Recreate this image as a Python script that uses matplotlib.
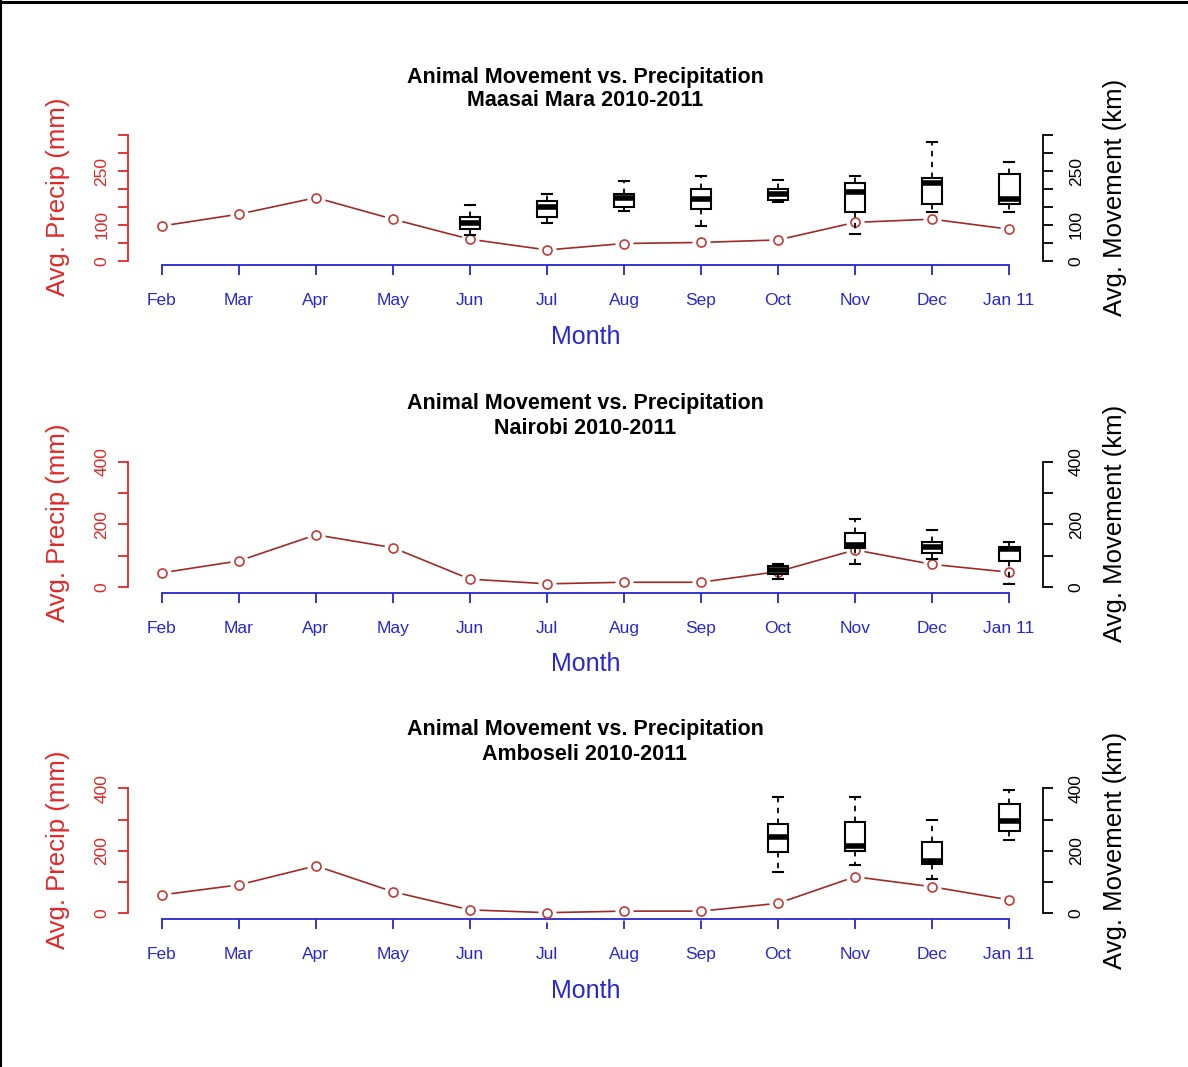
import matplotlib
matplotlib.use("Agg")
import matplotlib.pyplot as plt
from matplotlib.lines import Line2D

plt.rcParams['font.family'] = ['Liberation Sans', 'DejaVu Sans']

# ---------------- data ----------------
months = ["Feb", "Mar", "Apr", "May", "Jun", "Jul", "Aug", "Sep", "Oct", "Nov", "Dec", "Jan 11"]
sites = ["Maasai Mara 2010-2011", "Nairobi 2010-2011", "Amboseli 2010-2011"]

precip_mara = [97, 130, 176, 116, 60, 30, 48, 51, 58, 107, 116, 88]
precip_nairobi = [46, 84, 167, 126, 26, 11, 16, 16, 50, 119, 73, 48]
precip_amboseli = [59, 91, 152, 69, 11, 2, 7, 7, 32, 117, 85, 43]

# movement box stats: (month, lower whisker, Q1, median, Q3, upper whisker)
move_mara = [("Jun", 72, 88, 104, 121, 155),
             ("Jul", 106, 123, 149, 168, 186),
             ("Aug", 139, 150, 174, 186, 223),
             ("Sep", 97, 144, 171, 199, 236),
             ("Oct", 163, 170, 186, 199, 225),
             ("Nov", 75, 135, 192, 218, 236),
             ("Dec", 135, 158, 216, 230, 331),
             ("Jan 11", 135, 158, 173, 241, 277)]
move_nairobi = [("Oct", 27, 41, 55, 68, 74),
                ("Nov", 74, 124, 136, 172, 218),
                ("Dec", 89, 108, 127, 145, 182),
                ("Jan 11", 11, 84, 122, 129, 145)]
move_amboseli = [("Oct", 133, 195, 243, 285, 373),
                 ("Nov", 155, 200, 216, 291, 373),
                 ("Dec", 109, 158, 168, 228, 299),
                 ("Jan 11", 235, 263, 296, 349, 395)]

yticks_mara = [0, 50, 100, 150, 200, 250, 300, 350]
ylabels_mara = ["0", "", "100", "", "", "250", "", ""]
yticks_other = [0, 100, 200, 300, 400]
ylabels_other = ["0", "", "200", "", "400"]

# ---------------- layout ----------------
W, H = 1188, 1067
fig = plt.figure(figsize=(W / 100, H / 100), dpi=100)
fig.patch.set_facecolor("white")

# border lines (top & left)
fig.add_artist(Line2D([0, 1], [1 - 1.5 / H, 1 - 1.5 / H], color="black", lw=2.2, transform=fig.transFigure))
fig.add_artist(Line2D([1 / W, 1 / W], [0, 1], color="black", lw=1.5, transform=fig.transFigure))

panels = [
    dict(site=sites[0], precip=precip_mara, move=move_mara, ticks=yticks_mara, labels=ylabels_mara,
         top=130, bottom=265, ylim=(-12, 365), title_y=(77, 101), month_y=337, lab_y=197),
    dict(site=sites[1], precip=precip_nairobi, move=move_nairobi, ticks=yticks_other, labels=ylabels_other,
         top=455, bottom=593, ylim=(-18.2, 421), title_y=(403, 429), month_y=664, lab_y=523),
    dict(site=sites[2], precip=precip_amboseli, move=move_amboseli, ticks=yticks_other, labels=ylabels_other,
         top=780, bottom=919, ylim=(-18.2, 426.6), title_y=(730, 754), month_y=991, lab_y=850),
]

left_px, right_px = 128, 1043
red = "#E02828"
line_red = "#9E2A2A"
blue = "#2828D0"
x = list(range(1, len(months) + 1))

for p in panels:
    ax = fig.add_axes([left_px / W, 1 - p["bottom"] / H, (right_px - left_px) / W, (p["bottom"] - p["top"]) / H])
    ax.set_facecolor("none")
    ax.set_xlim(1 - 0.44, 12 + 0.44)
    ax.set_ylim(*p["ylim"])

    # precipitation line (type = "b")
    ax.plot(x, p["precip"], color=line_red, lw=1.2, zorder=2, clip_on=False)
    ax.plot(x, p["precip"], ls="none", marker="o", ms=12, mfc="white", mec="white", zorder=2.5, clip_on=False)
    ax.plot(x, p["precip"], ls="none", marker="o", ms=6.5, mfc="white", mec="#C03A3A", mew=1.2, zorder=3, clip_on=False)

    for s in ["top", "right"]:
        ax.spines[s].set_visible(False)
    ax.spines["left"].set_bounds(p["ticks"][0], p["ticks"][-1])
    ax.spines["left"].set_color(red)
    ax.spines["left"].set_linewidth(1.3)
    ax.spines["bottom"].set_bounds(1, 12)
    ax.spines["bottom"].set_color(blue)
    ax.spines["bottom"].set_linewidth(1.3)

    ax.set_xticks(x)
    ax.set_xticklabels(months)
    ax.tick_params(axis="x", direction="out", length=7.5, width=1.3, color=blue, labelcolor=blue,
                   labelsize=12.5, pad=12.5)
    ax.set_yticks(p["ticks"])
    ax.set_yticklabels(p["labels"])
    ax.tick_params(axis="y", direction="out", length=7.5, width=1.3, color=red, labelcolor=red,
                   labelsize=12.5, pad=6, labelrotation=90)
    for t in ax.get_yticklabels():
        t.set_va("center")

    # movement boxes on the right axis
    ax2 = ax.twinx()
    ax2.set_ylim(*p["ylim"])
    stats = []
    pos = []
    for (m, lo, q1, med, q3, hi) in p["move"]:
        stats.append(dict(whislo=lo, q1=q1, med=med, q3=q3, whishi=hi, fliers=[], label=m))
        pos.append(months.index(m) + 1)
    ax2.bxp(stats, positions=pos, widths=0.27, showfliers=False, manage_ticks=False,
            patch_artist=True,
            boxprops=dict(edgecolor="black", lw=1.5, facecolor="white"),
            medianprops=dict(color="black", lw=4, solid_capstyle="butt"),
            whiskerprops=dict(color="black", lw=1.3, ls=(0, (3, 3))),
            capprops=dict(color="black", lw=1.5), capwidths=0.135)
    ax2.set_xlim(1 - 0.44, 12 + 0.44)
    for s in ["top", "left", "bottom"]:
        ax2.spines[s].set_visible(False)
    ax2.spines["right"].set_bounds(p["ticks"][0], p["ticks"][-1])
    ax2.spines["right"].set_linewidth(1.3)
    ax2.set_yticks(p["ticks"])
    ax2.set_yticklabels(p["labels"])
    ax2.tick_params(axis="y", direction="out", length=7.5, width=1.3, labelsize=12.5, pad=11, labelrotation=90)
    for t in ax2.get_yticklabels():
        t.set_va("center")

    # texts
    fig.text(585 / W, 1 - p["title_y"][0] / H, "Animal Movement vs. Precipitation", ha="center", va="center",
             fontsize=15.5, fontweight="bold")
    fig.text(585 / W, 1 - p["title_y"][1] / H, p["site"], ha="center", va="center",
             fontsize=15.5, fontweight="bold")
    fig.text(586 / W, 1 - p["month_y"] / H, "Month", ha="center", va="center", fontsize=18, color=blue)
    fig.text(58 / W, 1 - p["lab_y"] / H, "Avg. Precip (mm)", ha="center", va="center", rotation=90,
             fontsize=18.5, color=red)
    fig.text(1115 / W, 1 - p["lab_y"] / H, "Avg. Movement (km)", ha="center", va="center", rotation=90,
             fontsize=18.5, color="black")

fig.savefig("out.png", dpi=100, facecolor="white")
